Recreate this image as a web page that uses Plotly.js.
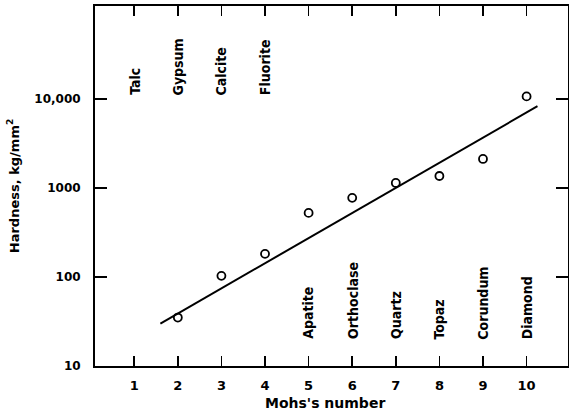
<!DOCTYPE html>
<html>
<head>
<meta charset="utf-8">
<script src="https://cdn.plot.ly/plotly-3.0.1.min.js"></script>
<style>html,body{margin:0;padding:0;background:#fff;}#chart{width:569px;height:411px;}</style>
</head>
<body>
<div id="chart"></div>
<script>
// Mohs's number vs. hardness (kg/mm^2)
var mohsNumbers = [2, 3, 4, 5, 6, 7, 8, 9, 10];
var hardness = [35, 103, 182, 525, 775, 1140, 1365, 2120, 10700];
var fitX = [1.6, 10.25];
var fitY = [30, 8300];
var topMinerals = ['Talc', 'Gypsum', 'Calcite', 'Fluorite'];
var topMineralX = [1, 2, 3, 4];
var bottomMinerals = ['Apatite', 'Orthoclase', 'Quartz', 'Topaz', 'Corundum', 'Diamond'];
var bottomMineralX = [5, 6, 7, 8, 9, 10];
var xTickVals = [1, 2, 3, 4, 5, 6, 7, 8, 9, 10];
var yTickVals = [10, 100, 1000, 10000];
var yTickText = ['10', '100', '1000', '10,000'];

var fontFam = 'DejaVu Sans, Liberation Sans, sans-serif';
var labelFam = 'DejaVu Sans Condensed, Liberation Sans Narrow, DejaVu Sans, sans-serif';

var traces = [
  {
    x: fitX, y: fitY, mode: 'lines', type: 'scatter',
    line: {color: '#000', width: 2}, hoverinfo: 'skip'
  },
  {
    x: mohsNumbers, y: hardness, mode: 'markers', type: 'scatter',
    marker: {symbol: 'circle-open', size: 8, color: '#000', line: {width: 1.8, color: '#000'}}
  }
];

var annotations = [];
topMinerals.forEach(function (m, i) {
  annotations.push({
    x: topMineralX[i], y: Math.log10(10500), xref: 'x', yref: 'y',
    text: m, textangle: -90, showarrow: false,
    xanchor: 'center', yanchor: 'bottom',
    font: {family: labelFam, size: 14, color: '#000', weight: 'bold'}
  });
});
bottomMinerals.forEach(function (m, i) {
  annotations.push({
    x: bottomMineralX[i], y: Math.log10(19), xref: 'x', yref: 'y',
    text: m, textangle: -90, showarrow: false,
    xanchor: 'center', yanchor: 'bottom',
    font: {family: labelFam, size: 14, color: '#000', weight: 'bold'}
  });
});
annotations.push({
  x: 0.486, y: -0.075, xref: 'paper', yref: 'paper',
  text: "Mohs's number", showarrow: false,
  xanchor: 'center', yanchor: 'top',
  font: {family: fontFam, size: 14, color: '#000', weight: 'bold'}
});

var layout = {
  width: 569, height: 411,
  margin: {l: 95, r: 1, t: 6, b: 45},
  paper_bgcolor: '#fff', plot_bgcolor: '#fff',
  showlegend: false,
  font: {family: fontFam, color: '#000'},
  xaxis: {
    range: [0.1, 10.95], tickvals: xTickVals, ticks: 'inside', ticklen: 10, tickwidth: 1.5,
    tickcolor: '#000', mirror: 'ticks', showline: true, linewidth: 2, linecolor: '#000',
    showgrid: false, zeroline: false, ticklabelstandoff: 6,
    tickfont: {family: fontFam, size: 13, color: '#000', weight: 'bold'}
  },
  yaxis: {
    type: 'log', range: [1, 5.045], tickvals: yTickVals, ticktext: yTickText,
    ticks: 'inside', ticklen: 12, tickwidth: 1.5, tickcolor: '#000', mirror: 'ticks',
    showline: true, linewidth: 2, linecolor: '#000', showgrid: false, zeroline: false,
    ticklabelstandoff: 10,
    tickfont: {family: fontFam, size: 12, color: '#000', weight: 'bold'},
    title: {text: 'Hardness, kg/mm<sup>2</sup>', font: {family: fontFam, size: 13, color: '#000', weight: 'bold'}, standoff: 12}
  },
  annotations: annotations
};

Plotly.newPlot('chart', traces, layout, {displayModeBar: false, staticPlot: true});
</script>
</body>
</html>
